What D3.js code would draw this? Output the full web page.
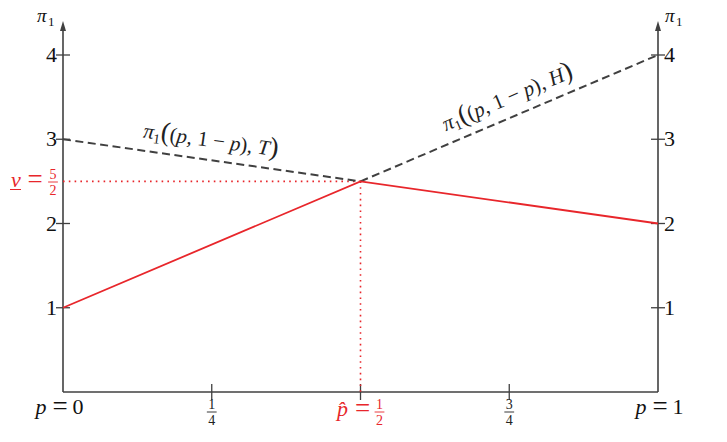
<!DOCTYPE html>
<html>
<head>
<meta charset="utf-8">
<script src="https://cdn.jsdelivr.net/npm/d3@7"></script>
<style>
  body { margin: 0; background: #fff; }
</style>
</head>
<body>
<svg width="727" height="442"></svg>
<script>
// данные
const pTicks = [0, 0.25, 0.5, 0.75, 1];
const pTickLabels = ["p = 0", "1/4", "p̂ = 1/2", "3/4", "p = 1"];
const yTicks = [1, 2, 3, 4];
const lineT = [[0, 3], [0.5, 2.5]];       // π1((p,1-p),T), upper part, dashed
const lineH = [[0.5, 2.5], [1, 4]];       // π1((p,1-p),H), upper part, dashed
const lowerEnv = [[0, 1], [0.5, 2.5], [1, 2]]; // минимум двух прямых
const pHat = 0.5;
const vVal = 2.5;

const red = "#e8262b";
const dark = "#404040";
const font = "Liberation Serif, Times New Roman, Times, DejaVu Serif, serif";

const svg = d3.select("svg").attr("font-family", font);
const scX = d3.scaleLinear().domain([0, 1]).range([63, 658]);
const scY = d3.scaleLinear().domain([0, 4]).range([392, 55]);

function txt(x, y, s, size, opts = {}) {
  const t = svg.append("text").attr("x", x).attr("y", y)
    .attr("font-size", size).attr("font-family", font)
    .attr("text-anchor", opts.anchor || "start")
    .attr("fill", opts.color || "#111");
  if (opts.italic) t.attr("font-style", "italic");
  t.text(s);
  return t;
}

// оси
svg.append("line").attr("x1", scX(0)).attr("x2", scX(1))
  .attr("y1", scY(0)).attr("y2", scY(0))
  .attr("stroke", dark).attr("stroke-width", 1.6);

function yAxis(x, side) {
  svg.append("line").attr("x1", x).attr("x2", x)
    .attr("y1", scY(0)).attr("y2", 26)
    .attr("stroke", dark).attr("stroke-width", 1.6);
  svg.append("path")
    .attr("d", `M${x - 3},${31} L${x},${21} L${x + 3},${31} Z`)
    .attr("fill", dark);
  const g = svg.append("g");
  g.selectAll("line").data(yTicks).enter().append("line")
    .attr("x1", x - 7).attr("x2", x + 7)
    .attr("y1", d => scY(d)).attr("y2", d => scY(d))
    .attr("stroke", dark).attr("stroke-width", 1.3);
  yTicks.forEach(d => txt(side < 0 ? x - 6 : x + 6, scY(d) + 7, d, 22,
    { anchor: side < 0 ? "end" : "start" }));
  txt(side < 0 ? x - 26 : x + 7, 22, "π", 19, { italic: true });
  txt(side < 0 ? x - 15 : x + 18, 26, "1", 13);
}
yAxis(scX(0), -1);
yAxis(scX(1), 1);

// x ticks
svg.append("g").selectAll("line").data(pTicks.slice(1, 4)).enter().append("line")
  .attr("x1", d => scX(d)).attr("x2", d => scX(d))
  .attr("y1", scY(0) - 8).attr("y2", scY(0) + 8)
  .attr("stroke", dark).attr("stroke-width", 1.3);

function fraction(x, yBar, num, den, size, color) {
  txt(x, yBar - 3, num, size, { anchor: "middle", color });
  txt(x, yBar + size - 1, den, size, { anchor: "middle", color });
  svg.append("line").attr("x1", x - size * 0.35).attr("x2", x + size * 0.35)
    .attr("y1", yBar).attr("y2", yBar).attr("stroke", color).attr("stroke-width", 0.9);
}

pTicks.forEach((p, i) => {
  const lab = pTickLabels[i];
  const x = scX(p);
  const off = i === 0 ? 0 : 5;
  if (i === 0 || i === 4) {
    txt(x - 22 + off, 414, "p", 22, { italic: true, anchor: "middle" });
    txt(x - 3 + off, 415, "=", 27, { anchor: "middle" });
    txt(x + 15 + off, 414, lab.split("= ")[1], 22, { anchor: "middle" });
  } else if (i === 2) {
    txt(x - 18, 416, "p̂", 22, { italic: true, color: red, anchor: "middle" });
    txt(x + 2, 417, "=", 27, { color: red, anchor: "middle" });
    const [n, d] = lab.split("= ")[1].split("/");
    fraction(x + 19, 412, n, d, 14, red);
  } else {
    const [n, d] = lab.split("/");
    fraction(x, 412, n, d, 14, "#222");
  }
});

// пунктирные направляющие
svg.append("line")
  .attr("x1", scX(0)).attr("x2", scX(pHat))
  .attr("y1", scY(vVal)).attr("y2", scY(vVal))
  .attr("stroke", red).attr("stroke-width", 1.6).attr("stroke-dasharray", "1.6,4.2");
svg.append("line")
  .attr("x1", scX(pHat)).attr("x2", scX(pHat))
  .attr("y1", scY(vVal)).attr("y2", scY(0))
  .attr("stroke", red).attr("stroke-width", 1.6).attr("stroke-dasharray", "1.6,4.2");

// v = 5/2
txt(16, 187, "v", 22, { italic: true, color: red, anchor: "middle" });
svg.append("line").attr("x1", 10).attr("x2", 21).attr("y1", 189.5).attr("y2", 189.5)
  .attr("stroke", red).attr("stroke-width", 1);
txt(35, 188, "=", 27, { color: red, anchor: "middle" });
fraction(53, 182, "5", "2", 14, red);

// линии
const line = d3.line().x(d => scX(d[0])).y(d => scY(d[1]));
[lineT, lineH].forEach(pts => {
  svg.append("path").attr("d", line(pts))
    .attr("fill", "none").attr("stroke", dark)
    .attr("stroke-width", 2).attr("stroke-dasharray", "8,4.5");
});
svg.append("path").attr("d", line(lowerEnv))
  .attr("fill", "none").attr("stroke", red).attr("stroke-width", 1.8);

// подписи прямых
function lineLabel(cx, cy, angle, letter) {
  const t = svg.append("text")
    .attr("transform", `translate(${cx},${cy}) rotate(${angle})`)
    .attr("font-family", font)
    .attr("text-anchor", "middle").attr("font-size", 21).attr("fill", "#222");
  t.append("tspan").attr("font-style", "italic").text("π");
  t.append("tspan").attr("font-size", 14).attr("dy", 4).text("1");
  t.append("tspan").attr("dy", -4).attr("font-size", 27).text("(");
  t.append("tspan").attr("font-size", 21).text("(");
  t.append("tspan").attr("font-style", "italic").text("p");
  t.append("tspan").text(", 1 − ");
  t.append("tspan").attr("font-style", "italic").text("p");
  t.append("tspan").text("), ");
  t.append("tspan").attr("font-style", "italic").text(letter);
  t.append("tspan").attr("font-size", 27).text(")");
}
lineLabel(210, 147, 8, "T");
lineLabel(510, 104, -23, "H");
</script>
</body>
</html>
